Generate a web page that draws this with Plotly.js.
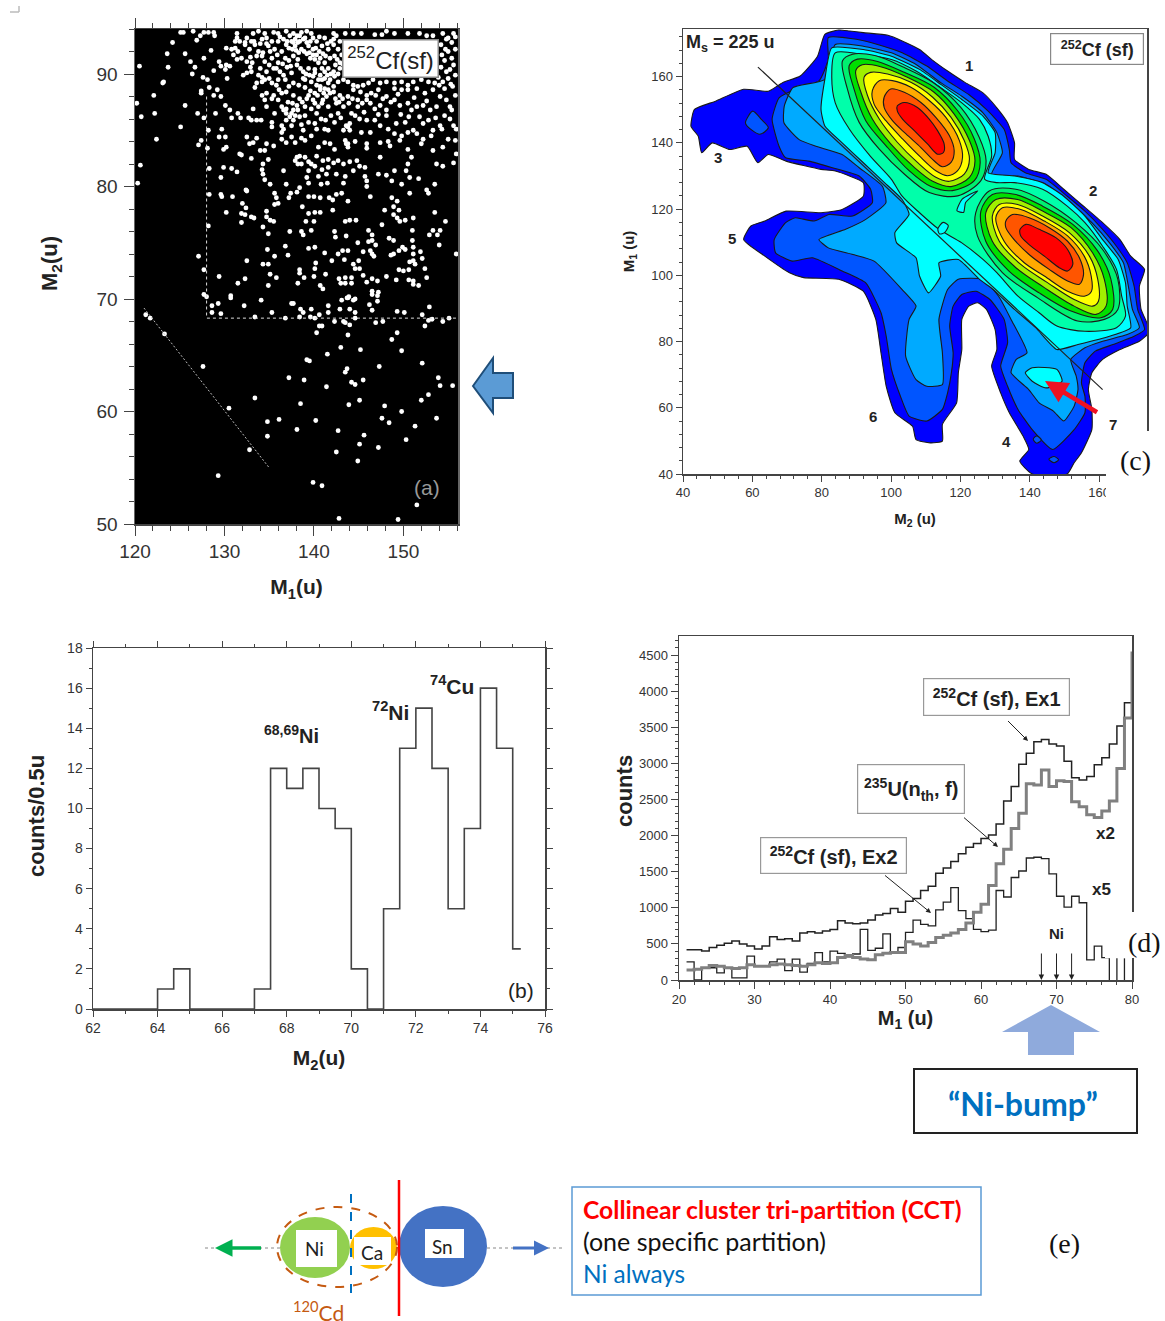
<!DOCTYPE html>
<html><head><meta charset="utf-8">
<script src="https://cdn.plot.ly/plotly-3.0.1.min.js"></script>
<style>html,body{margin:0;padding:0;background:#fff}#chart{width:1165px;height:1321px}</style>
</head><body><div id="chart"></div>
<script>
// ---------- panel (a): M1, M2 scatter ----------
const aPoints = [
[120.5,90.7],[120.2,87.4],[120.7,86.2],[122.4,84.2],[120.6,81.9],[120.3,80.3],[122.1,88.1],[122.2,86.5],[125.1,85.3],[125.6,87.2],[123.7,90.6],[123.6,91.8],[124.2,92.8],[123.1,89.2],[123.2,89.3],[125.6,91.8],[126.2,91.1],[126.7,90.6],[126.4,90],[127.6,89.7],[128.1,89.5],[127.4,88.5],[127.4,88.3],[128.3,88.8],[128.8,88.1],[129.2,88.6],[129.6,88],[127,86.5],[127.7,86.1],[129,86.5],[130.1,87.2],[130.6,86.8],[130.8,86.1],[131.5,86.5],[131.8,86.1],[132.7,86.1],[133.2,86.9],[133,85.9],[133.6,85.9],[134.1,85.9],[127.1,83.7],[127.4,84.1],[128.1,83.4],[128.2,85],[129.7,85.1],[129.4,84.4],[130.1,84.4],[129.9,83.3],[130.2,83.5],[128.3,81.6],[129.9,81.7],[130.8,81.6],[131.4,81.3],[129.6,80.8],[128.3,79.3],[129.6,79.3],[129.7,79.1],[130.9,79.1],[130.2,77.7],[132,78.5],[132.4,78.1],[131.9,77.6],[132.3,77.5],[133,77.3],[133.3,77.2],[131.9,76.8],[132.4,79.7],[132.5,79.6],[127.1,73.8],[127.7,72.6],[128.2,76.5],[127.7,70.4],[128,70.2],[129.4,72],[132.5,73.4],[131.5,71.4],[132.3,71.8],[130.7,70.1],
[125.1,93.7],[125.4,93.7],[126.5,93.8],[127.3,93.4],[127.7,93.7],[128.2,93.7],[128.8,93.7],[128.9,93.4],[126.9,93],[128.5,92.1],[127.7,91.4],[129.4,91.1],[129.6,90.7],[128.8,90.3],[130.2,90.8],[130.6,90.7],[130.3,89.6],[130.1,90.4],
[132.5,84.4],[133.6,84.3],[132.8,83.8],[133.2,83.9],[134.7,83.8],[135.5,83.6],[136.4,84.2],[136.9,83.9],[137.5,84.4],[137.9,83.9],[138.6,84.3],[139,84.1],[139.7,84.5],[140.5,83.5],[141.2,83.9],[141.8,83.8],[142.3,83.3],[143.5,84.1],[143.8,83.8],[143.8,83.5],[144.6,84],[145.9,83.8],[145.9,83.4],[147.4,83.9],[148.3,84],[148.5,83.6],[149.6,84.1],[150.5,83.3],[152,83.8],[152.2,84.2],[153.3,83.2],[154.4,83.5],[155,84.2],[155.8,84.1],[155.9,82.9],
[131.7,82.9],[131.9,82.8],[133,82.5],[134,83.2],[134.5,83.2],[134.9,82.4],[134.3,82],[134.2,81.5],[134.3,81.1],[134.5,80.6],[135.1,80.2],[136.6,81.4],[136.9,80.2],[137.9,82.3],[138.1,82.6],[138.4,82.7],[139,82.6],[139.4,82.2],[139.7,82],[140.3,82.7],[141,82.3],[141.6,82.4],[142.2,82.1],[138.2,82],[138.6,82],[139.4,81.4],[140.1,81.8],[140.9,81.5],[141.6,81.7],[142.7,82.3],[143.3,82],[144,82.2],[144.8,82.3],[145.1,81.8],[145.7,81.7],[144.4,81.4],[143.5,80.9],[142.5,81.1],[141.4,81.1],[140.5,80.9],[139.2,80.8],[139.4,80.3],[143.3,80.3],[145.7,80.9],[145.9,80.5],[147.4,82.6],[147.2,81.1],[148.1,81],[149,81.4],[148.7,80.5],[149.8,80.2],[150.3,81.4],[150.5,82],[150.9,82.6],[150.7,80.8],[151.7,80.7],[153.7,82],[154.4,81.8],[155.6,82.1],[153.5,80.2],
[135.6,79.4],[135.8,79],[136,78.5],[135.6,78.4],[137.2,79],[137.4,79.4],[138.1,79.5],[138.4,79.9],[140.8,80.2],[141.5,80.3],[140.7,79],[139.4,79.1],[140,79.1],[141.7,79],[142.1,78.8],[142.5,79.3],[143.1,79.4],[143.8,78.7],[145.9,80],[146.3,79.1],[142.1,77.9],[138.7,78.2],[134.7,77.8],[139.4,77.6],[140.1,77.7],[140.7,77.7],[134.7,77.3],[135.1,77],[135.5,76.9],[139.1,76.9],[140,76.9],[143.5,76.9],[144,77],[144.7,77],[148.7,79],[149.3,78.7],[148.9,78.2],[149.5,77.9],[148.9,77.5],[149.3,77.2],[149.6,76.9],[150.2,77],[151.1,77.2],[147.6,76.6],[147.9,77.9],[150.7,79.4],[152.6,79.7],[152.8,79.4],[153.5,77.7],[154.7,76.9],
[134.3,76.4],[134.9,75.8],[137.3,76],[138.6,76],[139.7,76.1],[138.8,75.7],[142.3,76],[142.4,75.5],[143.6,75.6],[146.1,76.1],[146.5,75.7],[146.5,75.2],[146.1,75.1],[146.9,74.8],[144.9,75],[148.4,75.4],[148.9,75.2],[151,76.1],[151,75.2],[153.3,76.1],[154.1,76.1],[152.9,75.7],[153.8,75.7],[154,74.8],[149.9,74.6],[150.2,74.4],[151.1,74.6],[149.5,74.3],[148.9,74],[148.6,73.9],[151.1,74],[151.9,74.2],[155.9,74],[152.1,73.6],[151.1,73.4],[150.7,73.3],[151.3,73.1],[134.8,74.4],[136.8,74.7],[139.4,74.5],[140.1,74.6],[141.2,74.1],[142.7,74],[143.2,74.3],[143.8,74.3],[145.5,74.2],[146.3,74.3],[146.5,74],[146.7,73.8],[137.1,73.9],[135.6,73.8],[142,73.4],[143.4,73.5],[145,73.4],[144.4,73.1],[140.2,73.2],[134.3,73.1],[134.9,73.1],[144.6,72.7],[145.1,72.7],[149.5,72.6],[150,72.5],[150.6,72.6],[152.4,72.7],[138.4,72.6],[140.1,72.7],[138.4,72.3],[145.5,72.1],[135.1,72.2],[135.8,71.9],[138.9,71.9],[140,72],[141.3,72.2],[142.8,71.8],[143.5,71.9],[144.2,71.9],[145.9,71.5],[146.5,71.8],[147.1,71.6],[148.1,72],[149.2,71.7],[150.6,71.7],[151.1,71.6],[152.6,71.9],[143,71.4],[143.5,71.4],[144.2,71.4],[138.2,71.4],[134.9,71.2],[140.7,71.2],[141,70.9],[151.1,71.3],[151.7,71.2],[146.5,70.4],[147.1,70.3],[143.8,70.1],[144.4,69.9],
[129.3,69.6],[128.6,69.4],[128.6,68.8],[129.6,68.7],[130.7,70.3],[132.2,69.4],[134.1,69.9],[135.3,68.8],[133.4,68.4],[136.8,68.3],[137.5,69.6],[137.7,69.6],[138.5,69.1],[138.8,68.8],[138.4,68.4],[139.7,69.1],[139.6,68.4],[140.1,68.3],[140.6,68.6],[141.6,69.4],[141.6,68.8],[142.9,69.1],[143.1,69.9],[143.7,70.1],[143.9,70.2],[144.6,70],[144,69.1],[144.6,68.8],[144.6,68.3],[146.2,69.5],[146.5,69],[147.1,69.8],[146.5,70.7],[147.2,70.6],[149.3,68.9],[150.1,68.8],[152.1,68.6],[152.9,69.3],[152.8,68.1],[153.2,68.2],[152.4,67.6],[154.4,68],[155.1,68.3],
[142.3,68],[143.3,68],[143.5,67.9],[144,67.7],[140.6,67.6],[140.9,67.6],[140.3,67],[143.8,66.8],[146.9,67.9],[147.7,68],[149.3,67],[148.7,66.4],[149.8,65.4],[143,65.7],[145.2,65.5],[141.5,65.1],[139.2,64.6],[139.5,64.5],[127.6,64],[147.3,64],[143.7,63.8],[143.5,63.5],[152.1,64.3],[137.2,63],[138.9,62.8],[145.5,62.8],[153.9,63],[144.2,62.6],[144.6,62.4],[141.4,62.2],[154.1,62.3],[155.5,62.3],[133.4,61.2],[152.8,61.5],[145.1,61],[152,61],[138.5,60.7],[143.9,60.6],[147.9,60.5],[130.5,60.3],[149.8,60],[136.1,59.3],[134.8,59.1],[140.2,59.2],[147.6,59.4],[153.7,59.4],[148.4,59],[151.3,58.7],[138.1,58.4],[142.7,58.3],[145.6,57.9],[134.8,57.8],[150.3,57.5],[145.1,57.1],[147.2,56.8],[132.8,56.6],[142.5,56.4],[144.9,55.6],[129.3,54.3],[139.9,53.7],[140.9,53.4],[151.5,51.7],[142.8,50.5],[149.4,50.4],[123.3,66.9],[121.7,68.3],[121.2,68.6],
[131.4,93.6],[131.4,93.2],[133.2,93.6],[133.8,93.8],[134.5,93.6],[135.5,93.7],[136,93.6],[136.9,93.8],[137.7,93.6],[138.6,93.7],[139.2,93.8],[139.7,93.6],[142.2,93.6],[142.5,93.4],[143.5,93.6],[144.4,93.6],[145.3,93.6],[146.8,93.5],[147.6,93.5],[148.1,93.8],[149,93.6],[150.5,93.6],[151.8,93.6],[152.6,93.4],[153.3,93.4],[155.6,93.6],[155,93.2],[132.5,93.2],[133,92.9],[132.3,92.8],[131.7,92.9],[131.2,92.9],[134.2,93.1],[134.7,93.2],[135.3,92.9],[136,92.9],[137.3,93.4],[137.9,93.1],[138.4,92.9],[139,93.2],[139.6,92.9],[140.3,92.9],[141.2,93.2],[142.2,93.1],[142.9,92.9],
[130.2,92.3],[130.8,92.2],[131.2,92.3],[131.5,92],[132.3,92.6],[132.8,92.2],[133.4,92.6],[133.8,92],[134.3,91.9],[134.9,92.5],[135.6,92.2],[136.4,92],[136.9,92.6],[137.5,92.9],[137.9,92.5],[138.2,92.8],[138.6,92.2],[139.4,92.5],[139.9,92.2],[140.3,91.7],[140.9,92.5],[141.6,92.2],[142.2,92.6],[142.7,92.2],[143.1,91.7],[131.9,91.4],[132.5,91.1],[131,91.7],[131.4,91.3],[133.6,91.6],[134.2,91.6],[134.5,91.1],[135.3,91.4],[136,91],[136.8,91.4],[137.7,91.6],[138.2,91.3],[138.1,90.8],[139.6,91.4],[140.1,91.3],[140.7,91.4],[141.2,91],[141.8,91.4],[142.3,91.6],[142.9,91],[154.8,93.1],[155.4,92.8],[155.8,92.2],[155,92],[155.4,91.4],[155.6,90.8],[155.2,90.4],[155.8,89.9],[155,89.6],[154.4,89.3],[154,89],
[132.5,90.1],[133,90.2],[132.1,89.9],[133.8,89.9],[134.7,90.2],[135.8,90.5],[136.6,89.9],[137.5,90.1],[138.8,89.6],[139.4,90.5],[140.1,90.4],[140.7,89.9],[141.2,90.2],[141.6,90.5],[142.2,90.2],[142.9,90.5],
[133.6,89.2],[133.4,88.8],[134.2,89.3],[134.5,89.5],[135.3,89.2],[135.8,89],[136.8,89.5],[137.7,89.2],[139,89.5],[139.7,89.3],[140.3,89],[140.9,89.5],[141.6,89.2],[142.2,88.9],[142.7,89.3],[143.3,89.5],[143.8,89.3],[144.4,89],[144.9,88.9],[145.5,89],[146.1,89.2],[146.6,89.5],[147.4,89.2],[148.1,89.3],[149,89.2],[149.8,89.3],[150.5,89],[151.1,89.3],[152,89.5],[152.8,89.3],[153.5,89.2],
[134.2,88.1],[134.7,88.3],[135.5,88.1],[134.5,87.7],[135.3,87.8],[136,87.7],[136.9,88.4],[137.7,88.1],[138.4,87.8],[139.4,88.1],[140.1,88.3],[140.7,88.6],[141.4,88],[142.2,88.4],[142.9,88.1],[143.8,88],[144.4,88.6],[144.9,87.7],[145.9,88.1],[146.4,88.3],[147.2,88.6],[148.1,88],[149,88.7],[149.8,88.6],[150.5,88.6],[151.5,88.7],[152.4,88.3],[153.3,88.6],[154.1,88],[155.8,88.1],
[134.7,87.1],[135.6,86.5],[136.4,87.1],[136.9,86.9],[137.5,86.5],[138.2,86.8],[139,87.1],[139.7,86.9],[140.3,86.5],[140.9,87.4],[141.6,87.1],[142.5,87.4],[143.3,87.1],[144.2,86.5],[144.9,87.1],[145.9,87.7],[146.3,87.4],[147.4,87.2],[148.1,86.8],[149,87.7],[149.6,87.2],[150.5,87.4],[151.5,87.1],[152.2,87.2],[153,86.8],[153.7,87.1],[155.2,87.1],[155.4,86.8],
[135.3,85.7],[135.3,85.3],[136.4,85.4],[136.9,85.9],[137.7,85.9],[137.9,86.3],[137.5,85.4],[138.4,86.2],[140.1,85.6],[140.3,85.1],[142.3,85.7],[143.6,85.4],[144,85.6],[144.6,86.3],[145.9,85.9],[145.3,84.8],[146.8,85.9],[147.4,85.4],[148.1,86.3],[148.3,85.1],[149.2,85.6],[150.2,85.7],[151.1,85],[151.8,86.2],[152.8,85.9],[153.3,85],[154.1,85.4],[155.2,86],[155.6,85.4],[155.9,85.1],
[136.6,85.1],[136.4,84.8],[138.8,85],[141.2,85.1],[141.6,85],[143.3,85],[143.8,85.3],[146.3,84.8],[149,84.7],[149.8,84.5],[150.5,84.8],[151.5,84.7],[153.1,84.5],[154.3,85.1],
[138.1,93.4],[138.4,93.4],[138.8,93.1],[137.7,92.8],[139.2,92.8],[140.5,91],[140.9,90.5],[140.1,90.1],[140.5,89.5],[141.2,89.6],[141.8,89.5],[142.3,89.8],[142.7,90],[140.7,88.9],[141.2,88.7],[141.6,88.6],[141,87.7],[140.1,87.4],[140.5,87.1],[136.9,86.5],[137.3,86.2],[137.7,86.8],[136.6,86.8],[143.6,83.8]
];
const aPointsDense = [
[136.2,93.3],[136.6,93.1],[137,92.9],[137.2,92.3],[137.6,92.2],[138,92.1],[138.3,91.9],[138.9,92],[139.2,91.8],[139.5,91.9],[139.9,91.7],[140.2,92.3],[140.6,92],[141,91.8],[141.3,91.6],[141.5,92.7],[141.9,92.9],[140.6,93.3],[139.9,93.2],[137.2,91.2],[136.5,90.9],[137,90.6],[137.4,90.7],[138.5,90.5],[138.8,90.2],[139.1,90],[139.5,89.9],[139.9,89.8],[141.5,89.9],[141.9,90],[142.4,90.8],[142.6,91.3],[143.2,90.9],
[136.1,88.6],[136.4,88.3],[137.1,87.5],[137.6,87.4],[138.1,87.2],[138.7,87.5],[139.2,87.8],[139.9,87.7],[140.4,88.1],[141.1,88.3],[141.8,88.3],[142.4,87.8],[142.8,87.5],[143.2,87.8],[143.9,87.4],[144.3,87.8],[145.2,88.4],[145.4,87.4],[146.9,88.1],[147.7,87.8],[146.8,86.9],[147.2,86.4],[145.1,86],[145.6,86.6],[144,85],[143,86.1],[142.7,86.5],[141.9,86.3],[141.3,85.9],[140.8,86],[139.4,85.7],[139,86.3],[138.6,85.5],[149.7,86.4],[150.6,86.2],[150.9,86.8],[152.2,85.6],[153.6,86.1],[154.6,86.3],[154.8,87.7],[155.5,88.9],[154.6,88.7],[152.6,87.6],[151.2,87.9],[149.4,88.2],[148.6,87.5],
[133.3,92.9],[134,92.7],[134.7,92.7],[135.1,92],[135.9,91.7],[132.9,91.5],[133.1,91],[132.9,90.6],[135,90.8],[135.5,90.5],[136.2,90.2],[134,90.5],[134.2,89.7],[135,89.6],[136,89.5],[137.2,88.9],[138.3,89],[139,88.8],[139.6,88.5],[154.6,91.2],[154.2,90.6],[154.8,90.2],[153.9,89.7],[155.3,89.1],[155.8,93.3],[154.4,93.6],[154.2,92.6],[154.7,92.2],[154.3,91.7]
];
const aGateX = [128, 128, 156];
const aGateY = [88, 68.3, 68.3];
const aDiagX = [121, 135];
const aDiagY = [69.2, 55];

// ---------- panel (b): counts per 0.5 u ----------
const bEdges  = [62,64,64.5,65,67,67.5,68,68.5,69,69.5,70,70.5,71,71.5,72,72.5,73,73.5,74,74.5,75,75.25];
const bCounts = [0,1,2,0,1,12,11,12,10,9,2,0,5,13,15,12,5,9,16,13,3,3];

// ---------- panel (c): contour outlines as [M2, M1] ----------
const cL1 = [[80.9,172.8],[84.9,174.1],[88,173.8],[92,173.3],[99.1,172.5],[103.2,170.8],[108.2,168.2],[112.3,164.7],[116.3,161.7],[121.4,158.2],[126.5,155.1],[130.5,150.6],[133.6,146.1],[135.6,140],[135.6,135],[139.7,132],[144.7,130.5],[149.8,126],[154.9,121.4],[161,115.9],[166,110.8],[169.1,105.8],[173.1,101.8],[171.6,96.7],[172.1,89.7],[174.6,83.1],[171.6,80.1],[166,77.6],[161,74.6],[157.9,70.6],[156.9,65.5],[157.9,59.5],[157.9,53.4],[154.9,46.4],[152.8,43.4],[150.8,40],[140.7,40],[137.1,43.9],[139.7,47.4],[138.1,51.4],[134.1,58.5],[131.6,64.5],[129,72.6],[130.5,77.6],[130,83.6],[127.5,89.7],[125,91.7],[122.4,90.7],[120.4,86.7],[120.4,77.6],[119.4,70.6],[118.9,61.5],[114.8,55],[114.8,49.9],[111.3,49.4],[107.2,50.4],[106.2,54.4],[101.1,58.5],[98.6,66.5],[97.1,76.6],[95.6,86.7],[92,95.2],[84.9,98.8],[74.8,99.3],[70.7,100.8],[63.6,105.8],[57.5,110.8],[59.6,114.9],[63.6,116.4],[69.7,119.4],[79.8,118.9],[85.9,119.9],[92,123.9],[92,128],[83.9,131.5],[79.8,132],[69.7,134.5],[64.6,136.5],[61.6,134],[58.5,139],[53.5,138],[48.4,140],[45.4,137],[44.4,142],[42.3,145],[43.3,150.1],[49.4,152.6],[57.5,156.2],[64.6,155.6],[68.7,158.2],[73.8,160.2],[78.8,166.2]];
const cL2 = [[81.9,171.8],[90,171.3],[96.1,169.7],[103.2,167.2],[110.3,163.2],[116.3,158.7],[122.4,154.6],[128,149.6],[132.6,144.1],[134.1,138],[134.6,134],[138.7,131],[144.7,129],[150.8,123.9],[155.9,119.4],[161,113.9],[165,108.8],[168.1,103.8],[170.1,96.7],[171.1,89.7],[173.1,83.6],[170.1,81.6],[164,79.1],[158.9,77.1],[155.9,73.6],[154.9,67.5],[155.9,63.5],[155.9,58.5],[152.8,53.4],[146.6,47.4],[140.7,53.4],[136.6,59.5],[133.6,66.5],[131.6,72.6],[133.6,79.6],[132.6,86.7],[128.5,92.7],[124.5,95.2],[120.4,94.2],[117.9,90.7],[116.9,84.7],[117.9,76.6],[117.4,70.6],[116.3,64.5],[114.8,59.5],[110.3,56],[105.2,57.5],[102.7,63.5],[100.1,71.6],[98.6,81.6],[97.1,88.7],[92.7,97.7],[85.9,101.3],[77.3,105.3],[71.5,104.3],[66.7,106.8],[66.3,110.8],[69.6,115.9],[72.4,117.4],[77.8,116.4],[82.1,118.4],[88.9,117.9],[94.6,121.9],[94.1,126],[90.8,130],[83.1,132.5],[76.3,134.5],[69.6,135.5],[67.7,139],[65.7,147.1],[67.7,153.6],[72.4,156.2],[79.2,158.7],[81.9,165.2]];
const cL2Isle1 = [[58,146.1],[60.1,149.6],[62.6,147.1],[64.6,144.6],[62.1,142.6],[58.5,145.1]];
const cL2Isle2 = [[141,50.5],[142,51.5],[143.3,50.3],[142,49.3]];
const cL2Isle3 = [[145.5,44.5],[147,45.3],[148.3,44.3],[147,43.4]];
const cL3 = [[83.9,169.7],[92,169.2],[100.1,167.2],[107.2,163.7],[114.3,158.2],[120.4,154.1],[126.5,149.1],[130.5,143.1],[132.1,137],[129,130.5],[136.6,130],[144.7,127.4],[151.8,121.9],[157.9,115.9],[163,109.8],[167,103.8],[168.6,95.7],[169.6,89.7],[171.6,84.2],[168.1,82.1],[161,80.1],[155.9,78.1],[151.8,74.6],[153.4,69.5],[153.9,65.5],[152.8,60.5],[149.8,56],[146.8,59],[142.7,61.5],[139.7,65.5],[134.6,70.6],[136.1,74.6],[139.2,76.6],[134.6,86.7],[131,93.7],[126.5,98.8],[119.4,98.8],[116.3,95.7],[113.8,86.7],[114.8,76.6],[114.8,67],[110.3,66.5],[107.2,68.5],[104.2,75.6],[105.2,86.7],[107.2,90.7],[103.2,95.7],[95.1,104.3],[89,106.3],[81.9,108.3],[79.2,110.8],[86.9,113.9],[92.7,116.9],[98.5,121.9],[97.5,126.9],[90.8,132.5],[85.9,136.5],[78.3,139],[73.5,141],[69.1,146.1],[69.2,151.1],[71.7,156.7],[80.9,159.2]];
const cL4 = [[82.9,168.7],[92,168.2],[100.1,166.2],[108.2,162.2],[114.3,157.7],[120.4,153.1],[126.5,148.1],[130,143.1],[130,137],[128,131],[135.6,130],[143.7,128],[149.8,123.9],[155.9,117.9],[161,110.8],[165.5,104.8],[167.6,97.7],[168.1,90.7],[169.1,84.2],[163,81.6],[153.9,79.1],[147.8,77.6],[141.7,84.2],[135.6,89.7],[129.5,95.7],[125.5,98.8],[119.4,104.8],[113.8,103.8],[114.3,99.8],[110.8,94.7],[108.2,99.8],[107.2,105.3],[101.6,109.8],[101.1,112.9],[105.2,118.4],[103.2,122.9],[98.1,128],[92,134],[85.9,140],[80.9,145.1],[79.8,150.1],[80.9,159.2]];
const cL4Lobe = [[138.7,70.6],[140.7,72.1],[147.8,71.6],[149.3,68],[144.7,66],[140.7,68]];
const cL5 = [[83.9,167.2],[92,166.7],[100.1,165.2],[107.2,161.7],[114.3,156.7],[120.4,152.1],[125.5,147.1],[128,142],[129,136],[127,129],[130.5,128],[135.6,128],[143.7,126],[150.8,120.9],[155.9,115.9],[161,108.8],[165,101.8],[166.5,93.7],[167.6,87.7],[165,84.2],[155.9,83.1],[147.8,84.7],[142.7,88.7],[136.6,93.7],[130.5,100.8],[126.5,104.8],[120.4,109.8],[113.8,113.9],[108.2,118.9],[103.2,123.9],[100.1,129],[94,136],[88,144.1],[83.9,152.1],[82.9,160.2]];
const cL4Saddle = [[119,119.5],[120.5,123],[125,125.5],[121.5,122],[120.9,119]];
const cL4Spot = [[113.5,114],[115,116],[116.5,115],[115.5,113],[114,112.5]];
const cP1L6 = [[86,164.8],[88.9,166.8],[95.6,166.3],[103.3,163],[112,158.3],[120.1,150.7],[125.4,141.7],[127.4,134.6],[125.9,128.6],[119.2,124],[111,125],[103.8,130.6],[96.6,138.1],[90.8,146.2],[87.4,156.3]];
const cP1L7 = [[87.9,163.3],[90.3,165.3],[96.1,164.6],[103.8,161.3],[112.4,156.8],[119.2,149.7],[124,141.2],[125.7,134.1],[124,128.6],[117.7,125.6],[111.5,126.8],[105.2,131.6],[98.5,139.2],[92.7,146.7],[89.3,156.3]];
const cP1L8 = [[89.8,161.8],[91.7,163.6],[97,163],[104.7,159.8],[112.4,155.3],[118.2,148.7],[122.6,140.7],[124.2,134.6],[122.6,129.6],[117.3,126.8],[112,128.4],[106.7,132.6],[99.9,139.7],[94.6,147.2],[91.3,155.3]];
const cP1L9 = [[92.2,159.8],[94.1,161.3],[99,160.8],[105.7,158.3],[112,153.8],[117.3,147.7],[121.1,140.7],[122.6,135.1],[121.1,130.6],[116.8,128.4],[112.9,129.6],[107.6,134.1],[101.8,140.2],[96.6,147.2],[93.2,154.3]];
const cP1L10 = [[94.6,155.8],[96.6,158.8],[100.4,158.8],[105.7,156.8],[111,152.8],[115.8,147.7],[119.7,140.7],[120.6,135.6],[119.2,131.6],[116.3,130.1],[112.9,131.6],[108.6,135.6],[103.3,141.2],[98.5,146.7],[95.1,151.7]];
const cP1L11 = [[98,153.8],[99.9,156.3],[103.8,155.3],[108.6,152.2],[112.9,147.7],[116.8,142.2],[118.2,137.6],[117.3,134.1],[114.8,132.8],[112.4,134.6],[108.6,138.6],[104.3,142.7],[100.4,146.7],[98,150.7]];
const cP1L12 = [[101.8,151.2],[103.8,152.2],[107.6,150.7],[111,147.2],[113.4,143.7],[115.3,139.7],[115.1,137.1],[113.4,136.6],[110.5,139.7],[106.7,143.7],[103.3,147.2],[101.8,149.7]];
const cP2L6 = [[124.4,118.9],[128.3,125.5],[136,126],[144.2,122.4],[153.3,115.9],[161,107.8],[165.4,98.8],[165.4,89.7],[161.5,86.7],[153.8,86.2],[142.3,93.2],[132.1,100.8],[124.9,111.9]];
const cP2L7 = [[125.9,119.4],[129.2,124.4],[136,124.4],[143.7,120.9],[152.4,115.4],[159.6,107.3],[163.4,98.8],[163.9,89.7],[160.5,87.2],[151.9,89.2],[142.7,94.7],[134,101.3],[127.3,110.3]];
const cP2L8 = [[127.3,118.9],[130.2,122.9],[136.5,122.9],[143.7,119.4],[151.9,114.4],[158.1,106.8],[161.5,98.8],[162,90.7],[159.1,88.2],[152.8,90.7],[144.2,96.3],[136,102.3],[129.2,110.3]];
const cP2L9 = [[129.2,117.9],[131.2,121.4],[136.5,121.4],[143.7,117.9],[151.4,112.9],[157.2,105.8],[159.6,98.8],[159.8,92.2],[158.1,90.7],[152.8,92.7],[145.1,97.8],[137.4,103.3],[131.2,110.3]];
const cP2L10 = [[130.2,117.4],[132.1,120.4],[137.4,119.9],[144.2,116.4],[150.9,111.9],[155.7,105.8],[157.7,99.8],[157.8,95.2],[155.7,93.7],[150.9,95.2],[144.2,99.8],[138.4,103.8],[132.6,110.3]];
const cP2L11 = [[133.1,116.4],[135,118.4],[139.8,117.4],[145.6,114.4],[150.9,110.3],[154.3,105.3],[155.5,100.3],[154.3,97.3],[150.9,98.3],[145.6,101.8],[139.8,106.3],[135,111.4],[133.1,114.4]];
const cP2L12 = [[137.2,113.9],[138.9,115.4],[142.7,113.9],[147.5,111.4],[150.9,107.8],[152.4,103.3],[150.9,101.3],[148.5,102.3],[144.2,105.8],[139.8,109.3],[137.4,111.9]];
const cColors = {L1:'#0000ff',L2:'#0055ff',L3:'#00aaff',L4:'#00ffff',L5:'#00ffaa',L6:'#00f070',L7:'#00e000',L8:'#a0f000',L9:'#ffff00',L10:'#ffaa00',L11:'#ff5500',L12:'#ff0000'};
const cMsX = [61.6, 161];
const cMsY = [162.9, 65.5];

// ---------- panel (d): counts per 1 u, bins start at 21 ----------
const dEdges = [21,22,23,24,25,26,27,28,29,30,31,32,33,34,35,36,37,38,39,40,41,42,43,44,45,46,47,48,49,50,51,52,53,54,55,56,57,58,59,60,61,62,63,64,65,66,67,68,69,70,71,72,73,74,75,76,77,78,79,80];
const dEx1 = [420,420,400,450,480,510,540,500,470,430,470,600,560,570,540,650,670,650,680,700,820,790,780,790,830,900,920,990,940,1090,1130,1240,1300,1480,1550,1640,1750,1840,1890,1960,2010,2160,2480,2680,2990,3140,3300,3330,3270,3240,3030,2800,2770,2820,2980,3080,3270,3520,3840,4200];
const dU235 = [140,150,170,200,190,170,160,170,210,190,190,210,220,210,200,190,210,240,230,240,310,340,310,290,280,350,370,380,380,530,500,470,520,590,620,650,700,790,940,1050,1310,1610,1810,2100,2310,2720,2700,2910,2680,2760,2750,2470,2400,2290,2250,2340,2480,2930,3630,4550];
const dEx2Edges = [21,22,23,24,25,26,27,28,29,30,31,32,33,34,35,36,37,38,39,40,41,42,43,44,45,46,47,48,49,50,51,52,53,54,55,56,57,58,59,60,61,62,63,64,65,66,67,68,69,70,71,72,73,74,75,76,77];
const dEx2 = [250,0,160,170,100,160,30,30,330,200,200,250,290,130,290,110,230,380,250,400,370,320,360,700,410,440,640,380,450,660,830,770,750,970,1080,1280,960,850,700,670,690,1240,1150,1420,1510,1690,1700,1680,1470,1160,1010,1160,1070,280,470,310,310];
const dStubX = [77,77,null,78,78,null,79,79];
const dStubY = [0,300,null,0,300,null,0,300];
const dNiMasses = [68,70,72];
const dNiArrowTop = 485;

// ---------- layout helpers ----------
const W = 1165, H = 1321;
const px = v => v / W, py = v => 1 - v / H;
const FONT = 'Liberation Sans, Arial, sans-serif';
const SERIF = 'Liberation Serif, Times New Roman, serif';
const NARROW = 'Lato, sans-serif';

function ann(text, x, y, o) {
  o = o || {};
  return Object.assign({text, xref:'paper', yref:'paper', x:px(x), y:py(y), showarrow:false,
    xanchor:'center', yanchor:'middle', font:{family:FONT, size:16, color:'#222'}}, o);
}
function arrow(x0, y0, x1, y1, color, width, head) {
  return {text:' ', xref:'paper', yref:'paper', x:px(x1), y:py(y1), ax:x0-x1, ay:y0-y1,
    showarrow:true, arrowcolor:color, arrowwidth:width, arrowhead:head === undefined ? 2 : head, arrowsize:1, standoff:0, startstandoff:0};
}
function rect(x0,y0,x1,y1,fill,line,lw){return {type:'rect',xref:'paper',yref:'paper',x0:px(x0),x1:px(x1),y0:py(y0),y1:py(y1),fillcolor:fill,line:{color:line||'rgba(0,0,0,0)',width:lw||0},layer:'above'};}
function oval(x0,y0,x1,y1,fill,line,lw,dash){return {type:'circle',xref:'paper',yref:'paper',x0:px(x0),x1:px(x1),y0:py(y0),y1:py(y1),fillcolor:fill,line:{color:line||'rgba(0,0,0,0)',width:lw||0,dash:dash||'solid'},layer:'above'};}
function seg(x0,y0,x1,y1,color,lw,dash){return {type:'line',xref:'paper',yref:'paper',x0:px(x0),x1:px(x1),y0:py(y0),y1:py(y1),line:{color,width:lw,dash:dash||'solid'},layer:'above'};}
function poly(pts,fill,line,lw){
  const d = pts.map((p,i)=>(i?'L':'M')+px(p[0]).toFixed(5)+','+py(p[1]).toFixed(5)).join(' ')+' Z';
  return {type:'path',xref:'paper',yref:'paper',path:d,fillcolor:fill,line:{color:line||'rgba(0,0,0,0)',width:lw||0},layer:'above'};
}
function axis(o){
  return Object.assign({ticks:'outside',showgrid:false,zeroline:false,showline:true,linecolor:'#444',linewidth:1.5,
    tickcolor:'#444',tickfont:{family:FONT,size:14,color:'#333'},automargin:false,fixedrange:true},o);
}

// ---------- traces ----------
const traces = [];
const cxy = {xaxis:'x2',yaxis:'y2'}, bxy = {xaxis:'x3',yaxis:'y3'}, dxy = {xaxis:'x4',yaxis:'y4'};
const aAll = aPoints.concat(aPointsDense);

traces.push({type:'scatter',mode:'markers',x:aAll.map(p=>p[0]),y:aAll.map(p=>p[1]),marker:{color:'#fff',size:4.8},hoverinfo:'skip'});
traces.push({type:'scatter',mode:'lines',x:aGateX,y:aGateY,line:{color:'#ddd',width:1,dash:'3px,3px'},hoverinfo:'skip'});
traces.push({type:'scatter',mode:'lines',x:aDiagX,y:aDiagY,line:{color:'#bbb',width:1,dash:'2px,2px'},hoverinfo:'skip'});

traces.push(Object.assign({type:'scatter',mode:'lines',x:bEdges,y:bCounts,line:{color:'#444',width:1.6,shape:'hv'},hoverinfo:'skip'},bxy));

function region(pts,color,smoothing){
  const closed = pts.concat([pts[0]]);
  traces.push(Object.assign({type:'scatter',mode:'lines',x:closed.map(p=>p[0]),y:closed.map(p=>p[1]),fill:'toself',fillcolor:color,
    line:{color:'#1a1a1a',width:1.1,shape:'spline',smoothing:smoothing},hoverinfo:'skip'},cxy));
}
region(cL1,cColors.L1,0.5); region(cL2,cColors.L2,0.5); region(cL2Isle1,cColors.L2,0.8); region(cL2Isle2,cColors.L2,0.8); region(cL2Isle3,cColors.L2,0.8);
region(cL3,cColors.L3,0.5); region(cL4,cColors.L4,0.5); region(cL4Lobe,cColors.L4,0.6); region(cL5,cColors.L5,0.8);
region(cL4Saddle,cColors.L4,0.6); region(cL4Spot,cColors.L4,0.8);
[[cP1L6,cP2L6,'L6'],[cP1L7,cP2L7,'L7'],[cP1L8,cP2L8,'L8'],[cP1L9,cP2L9,'L9'],[cP1L10,cP2L10,'L10'],[cP1L11,cP2L11,'L11'],[cP1L12,cP2L12,'L12']]
 .forEach(r=>{region(r[0],cColors[r[2]],0.9);region(r[1],cColors[r[2]],0.9);});
traces.push(Object.assign({type:'scatter',mode:'lines',x:cMsX,y:cMsY,line:{color:'#222',width:1.2},hoverinfo:'skip'},cxy));

traces.push(Object.assign({type:'scatter',mode:'lines',x:dEdges,y:dEx1,line:{color:'#222',width:1.5,shape:'hv'},hoverinfo:'skip'},dxy));
traces.push(Object.assign({type:'scatter',mode:'lines',x:dEx2Edges,y:dEx2,line:{color:'#222',width:1.3,shape:'hv'},hoverinfo:'skip'},dxy));
traces.push(Object.assign({type:'scatter',mode:'lines',x:dStubX,y:dStubY,line:{color:'#222',width:1.3},hoverinfo:'skip'},dxy));
traces.push(Object.assign({type:'scatter',mode:'lines',x:dEdges,y:dU235,line:{color:'#808080',width:3,shape:'hv'},hoverinfo:'skip'},dxy));

// ---------- annotations ----------
const annotations = [
  // (a)
  ann('<b>M<sub>2</sub>(u)</b>',51,264,{textangle:-90,font:{family:FONT,size:22,color:'#222'}}),
  ann('<sup>252</sup>Cf(sf)',390.5,59,{font:{family:FONT,size:24,color:'#222'},bgcolor:'#fff',bordercolor:'#888',borderwidth:1.5,width:92,height:34}),
  ann('(a)',427,488,{font:{family:FONT,size:21,color:'#999'}}),
  // (b)
  ann('<b>counts/0.5u</b>',36,816,{textangle:-90,font:{family:FONT,size:22,color:'#222'}}),
  ann('<b><sup>68,69</sup>Ni</b>',291,734,{font:{family:FONT,size:20,color:'#222'}}),
  ann('<b><sup>72</sup>Ni</b>',390,711,{font:{family:FONT,size:21,color:'#222'}}),
  ann('<b><sup>74</sup>Cu</b>',452,685,{font:{family:FONT,size:21,color:'#222'}}),
  ann('(b)',521,990,{font:{family:FONT,size:21,color:'#222'}}),
  // (c)
  ann('<b>M<sub>s</sub> = 225 u</b>',684,43,{xanchor:'left',font:{family:FONT,size:18,color:'#222'}}),
  ann('<b><sup>252</sup>Cf (sf)</b>',1097,49,{font:{family:FONT,size:18,color:'#222'},bgcolor:'#fff',bordercolor:'#888',borderwidth:1.2,width:90,height:28}),
  ann('<b>1</b>',969,66,{font:{family:FONT,size:15,color:'#222'}}),
  ann('<b>2</b>',1093,190,{font:{family:FONT,size:15,color:'#222'}}),
  ann('<b>3</b>',718,158,{font:{family:FONT,size:15,color:'#222'}}),
  ann('<b>4</b>',1006,441,{font:{family:FONT,size:15,color:'#222'}}),
  ann('<b>5</b>',732,238,{font:{family:FONT,size:15,color:'#222'}}),
  ann('<b>6</b>',873,416,{font:{family:FONT,size:15,color:'#222'}}),
  ann('<b>7</b>',1113,424,{font:{family:FONT,size:15,color:'#222'}}),
  arrow(1100,414,1045,381,'#ee1122',4.5,2),
  ann('(c)',1135,460,{font:{family:SERIF,size:28,color:'#111'}}),
  // (d)
  ann('<b>counts</b>',624,791,{textangle:-90,font:{family:FONT,size:22,color:'#222'}}),
  ann('<b><sup>252</sup>Cf (sf), Ex1</b>',997,697,{font:{family:FONT,size:20,color:'#222'},bgcolor:'#fff',bordercolor:'#999',borderwidth:1.2,width:143,height:34}),
  ann('<b><sup>235</sup>U(n<sub>th</sub>, f)</b>',911,789,{font:{family:FONT,size:20,color:'#222'},bgcolor:'#fff',bordercolor:'#999',borderwidth:1.2,width:104,height:46}),
  ann('<b><sup>252</sup>Cf (sf), Ex2</b>',833,855,{font:{family:FONT,size:20,color:'#222'},bgcolor:'#fff',bordercolor:'#999',borderwidth:1.2,width:143,height:33}),
  arrow(1005,718,1028,741,'#222',1,2),
  arrow(961,815,998,847,'#222',1,2),
  arrow(882,873,931,913,'#222',1,2),
  ann('<b>x2</b>',1105,833,{font:{family:FONT,size:17,color:'#222'}}),
  ann('<b>x5</b>',1101,889,{font:{family:FONT,size:17,color:'#222'}}),
  ann('<b>Ni</b>',1056,933,{font:{family:FONT,size:15,color:'#222'}}),
  ann('(d)',1144,942,{font:{family:SERIF,size:28,color:'#111'}}),
  ann('<b>“Ni-bump”</b>',1023,1103,{font:{family:NARROW,size:32,color:'#0070C0'}}),
  // (e)
  ann('Ni',314,1248,{font:{family:NARROW,size:19,color:'#222'}}),
  ann('Ca',372,1252,{font:{family:NARROW,size:19,color:'#222'}}),
  ann('Sn',442,1246,{font:{family:NARROW,size:19,color:'#222'}}),
  ann('<sup>120</sup>Cd',318,1311,{font:{family:NARROW,size:21,color:'#C55A11'}}),
  ann('<b>Collinear cluster tri-partition (CCT)</b>',581,1209,{xanchor:'left',font:{family:NARROW,size:24.7,color:'#FF0000'}}),
  ann('(one specific partition)',581,1241,{xanchor:'left',font:{family:NARROW,size:25,color:'#111'}}),
  ann('Ni always',581,1273,{xanchor:'left',font:{family:NARROW,size:24.4,color:'#0070C0'}}),
  ann('(e)',1064,1243,{font:{family:SERIF,size:28,color:'#111'}}),
  arrow(264,1248,215,1248,'#00B050',3.5,2),
  arrow(510,1248,549,1248,'#4472C4',3,2)
];
dNiMasses.forEach(m=>annotations.push({text:' ',xref:'x4',yref:'y4',x:m,y:0,axref:'x4',ayref:'y4',ax:m,ay:dNiArrowTop,showarrow:true,arrowcolor:'#222',arrowwidth:1,arrowhead:2,arrowsize:1.1,standoff:0}));

// ---------- shapes ----------
const shapes = [
  // panel (a) has a black plotting area
  {type:'rect',xref:'x',yref:'y',x0:120,x1:156.1,y0:50,y1:94,fillcolor:'#000',line:{width:0},layer:'below'},
  seg(10,12,19,12,'#bbb',1.5), seg(19,6,19,12,'#bbb',1.5),
  // arrow pointing to panel (a)
  poly([[473,386],[493,358],[493,373],[513,373],[513,398],[493,398],[493,413]],'#5B9BD5','#1F4E79',2),
  // masks beside (c) and (d)
  rect(1106,431,1165,500,'#fff'),
  rect(1105,912,1165,958,'#fff'),
  // Ni-bump pointer and box
  poly([[1051,1005],[1100,1032],[1074,1032],[1074,1055],[1028,1055],[1028,1032],[1002,1032]],'#8FAADC'),
  rect(914,1069,1137,1133,'#fff','#222',2),
  // tri-partition sketch
  seg(205,1248,565,1248,'#888',1,'dot'),
  oval(280,1217,350,1278,'#92D050'),
  oval(350,1227,397,1269,'#FFC000'),
  oval(399,1206,487,1287,'#4472C4'),
  rect(296,1230,337,1267,'#fff'),
  rect(354,1237,391,1265,'#fff'),
  rect(425,1229,464,1258,'#fff'),
  oval(277,1207,397,1287,'rgba(0,0,0,0)','#C55A11',2,'dash'),
  seg(351,1194,351,1294,'#0070C0',2,'dash'),
  seg(399,1180,399,1316,'#FF0000',2.5),
  rect(572,1187,981,1295,'#fff','#5B9BD5',1.5)
];

// ---------- layout ----------
const layout = {
  width:W, height:H, margin:{l:0,r:0,t:0,b:0}, paper_bgcolor:'#fff', showlegend:false, hovermode:false,
  plot_bgcolor:'#fff', font:{family:FONT},
  // (a)
  xaxis:axis({domain:[px(135),px(458)],range:[120,156.1],dtick:10,tick0:120,ticklen:10,minor:{dtick:2,ticks:'outside',ticklen:5,tickcolor:'#444'},mirror:'ticks',ticklabelstandoff:0,
    tickfont:{family:FONT,size:19,color:'#333'},title:{text:'<b>M<sub>1</sub>(u)</b>',font:{family:FONT,size:21,color:'#222'},standoff:18},anchor:'y'}),
  yaxis:axis({domain:[py(524),py(29)],range:[50,94],dtick:10,tick0:50,ticklen:10,minor:{dtick:2,ticks:'outside',ticklen:5,tickcolor:'#444'},mirror:true,ticklabelstandoff:2,linecolor:'#666',
    tickfont:{family:FONT,size:19,color:'#333'},anchor:'x'}),
  // (c)
  xaxis2:axis({domain:[px(683),px(1147)],range:[40,173.8],dtick:20,tick0:40,ticklen:6,minor:{dtick:4,ticks:'outside',ticklen:3,tickcolor:'#444'},mirror:true,anchor:'y2',tickfont:{family:FONT,size:13,color:'#333'},
    title:{text:'<b>M<sub>2</sub> (u)</b>',font:{family:FONT,size:15,color:'#222'},standoff:14}}),
  yaxis2:axis({domain:[py(474),py(29)],range:[40,174.4],dtick:20,tick0:40,ticklen:6,minor:{dtick:4,ticks:'outside',ticklen:3,tickcolor:'#444'},mirror:true,anchor:'x2',tickfont:{family:FONT,size:13,color:'#333'},
    title:{text:'<b>M<sub>1</sub> (u)</b>',font:{family:FONT,size:15,color:'#222'},standoff:13}}),
  // (b)
  xaxis3:axis({domain:[px(93),px(545)],range:[62,76],dtick:2,tick0:62,ticklen:6,minor:{dtick:1,ticks:'outside',ticklen:3,tickcolor:'#444'},mirror:'allticks',anchor:'y3',tickfont:{family:FONT,size:14,color:'#333'},
    title:{text:'<b>M<sub>2</sub>(u)</b>',font:{family:FONT,size:21,color:'#222'},standoff:15}}),
  yaxis3:axis({domain:[py(1009),py(648)],range:[0,18],dtick:2,tick0:0,ticklen:6,minor:{dtick:1,ticks:'outside',ticklen:3,tickcolor:'#444'},mirror:'allticks',anchor:'x3',tickfont:{family:FONT,size:14,color:'#333'}}),
  // (d)
  xaxis4:axis({domain:[px(679),px(1132)],range:[20,80],dtick:10,tick0:20,ticklen:7,minor:{dtick:2,ticks:'outside',ticklen:3,tickcolor:'#444'},mirror:true,anchor:'y4',tickfont:{family:FONT,size:13,color:'#333'},
    title:{text:'<b>M<sub>1</sub> (u)</b>',font:{family:FONT,size:20,color:'#222'},standoff:0}}),
  yaxis4:axis({domain:[py(980),py(636)],range:[0,4765],dtick:500,tick0:0,ticklen:7,minor:{dtick:100,ticks:'outside',ticklen:3,tickcolor:'#444'},mirror:true,anchor:'x4',tickfont:{family:FONT,size:13,color:'#333'}}),
  annotations, shapes
};

Plotly.newPlot('chart', traces, layout, {staticPlot:true, displayModeBar:false});
</script></body></html>
